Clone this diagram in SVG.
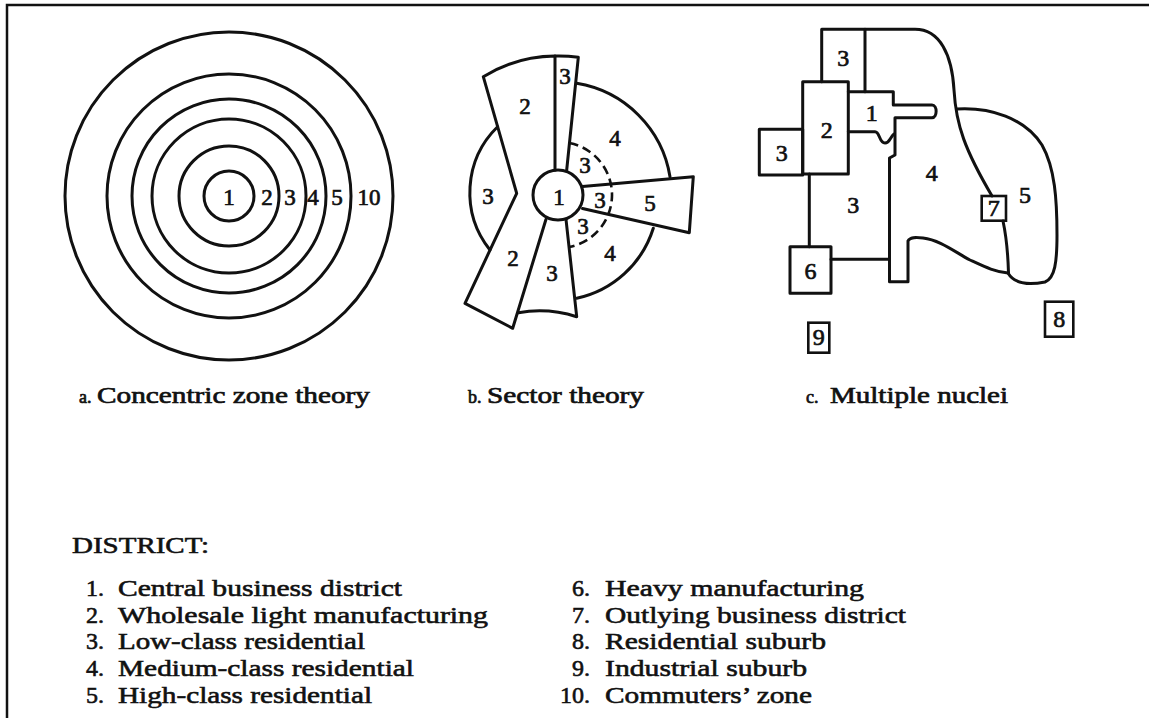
<svg xmlns="http://www.w3.org/2000/svg" width="1149" height="718" viewBox="0 0 1149 718">
<style>
.ln{fill:none;stroke:#111;stroke-width:3;stroke-linejoin:round;stroke-linecap:round}
.bx{fill:none;stroke:#111;stroke-width:2.6}
.dash{fill:none;stroke:#111;stroke-width:2.6;stroke-dasharray:9 5}
.num{font-family:"Liberation Serif","Times New Roman",serif;font-size:23px;text-anchor:middle;fill:#111;stroke:#111;stroke-width:0.7}
.nb{font-size:24px}
.cap{font-family:"Liberation Serif","Times New Roman",serif;font-size:24px;fill:#111;stroke:#111;stroke-width:0.7}
.sm{font-size:18px}
.leg{font-family:"Liberation Serif","Times New Roman",serif;font-size:24px;fill:#111;stroke:#111;stroke-width:0.6}
</style>
<rect width="1149" height="718" fill="#fff"/>
<path d="M7 718 V5 H1149" fill="none" stroke="#111" stroke-width="2.5"/>

<g id="concentric">
<circle class="ln" cx="229" cy="196" r="25"/>
<circle class="ln" cx="229" cy="196" r="50"/>
<circle class="ln" cx="229" cy="196" r="77"/>
<circle class="ln" cx="229" cy="196" r="97"/>
<circle class="ln" cx="229" cy="196" r="122"/>
<circle class="ln" cx="229" cy="196" r="164"/>
<text class="num" x="229" y="204.5">1</text>
<text class="num" x="267" y="204.5">2</text>
<text class="num" x="290" y="204.5">3</text>
<text class="num" x="313" y="204.5">4</text>
<text class="num" x="337" y="204.5">5</text>
<text class="num" x="369" y="204.5">10</text>
</g>

<g id="sector">
<circle class="ln" cx="558" cy="195" r="25"/>
<path class="ln" d="M555 170 V56 A139 139 0 0 0 483.3 76.7 L516.7 193.3 L465 303.3 L512.7 328.3 L546 219.3"/>
<path class="ln" d="M555 56 A139 139 0 0 1 578.3 57.3 L566.7 170"/>
<path class="ln" d="M497.6 126.7 A92 92 0 0 0 490 250"/>
<path class="ln" d="M576.7 83.3 A113 113 0 0 1 670 176.7"/>
<path class="ln" d="M582.5 186.5 L693.3 176.7 L689.3 232.7 L582.5 208.5"/>
<path class="ln" d="M653.3 228.3 A103 103 0 0 1 576.7 298.3"/>
<path class="ln" d="M566 219.3 L576.7 316.7 A123 123 0 0 0 518.3 312.7"/>
<path class="dash" d="M569.5 143 A53 53 0 0 1 569 247"/>
<text class="num" x="565" y="84">3</text>
<text class="num" x="525" y="114">2</text>
<text class="num" x="615" y="145.5">4</text>
<text class="num" x="585" y="172.5">3</text>
<text class="num" x="488" y="204">3</text>
<text class="num" x="559" y="204.5">1</text>
<text class="num" x="600" y="207.5">3</text>
<text class="num" x="650" y="210.5">5</text>
<text class="num" x="583" y="234">3</text>
<text class="num" x="610" y="260.5">4</text>
<text class="num" x="513" y="265.5">2</text>
<text class="num" x="552" y="280.5">3</text>
</g>

<g id="nuclei">
<path class="ln" d="M821.7 81.7 V29.3 H915 C940 29.3 952 55 954 90 C956 125 965 150 992 196"/>
<path class="ln" d="M865 29.3 V91.7"/>
<rect class="ln" x="802.7" y="81.7" width="45.6" height="92.3"/>
<rect class="ln" x="759.3" y="129.3" width="43.4" height="45.7"/>
<path class="ln" d="M848.3 91.7 H893.3 V105 H932 C937.5 105 937.5 117.7 932 117.7 H895 V155 L889.5 158 V281.7 H908 V241 C910 237 915 237 923 238 C940 240 955 252 970 260 C985 267 995 272 1008 273"/>
<path class="ln" d="M848.3 131.7 H875 C880 131.7 879 143 885 143 C890 143 890 137 894 134"/>
<path class="ln" d="M956.7 109 C990 107 1025 118 1042 145 C1055 168 1057 200 1057 235 C1057 262 1055 278 1045 282 C1030 285 1015 285 1008 273"/>
<path class="ln" d="M1003 221 C1006 235 1008 255 1008.5 273"/>
<rect class="bx" x="981.7" y="196" width="24.3" height="24.7"/>
<path class="ln" d="M809.3 174 V246.7 M831 259.3 H889.5"/>
<rect class="ln" x="790" y="246.7" width="41" height="46.6"/>
<rect class="bx" x="808.3" y="322.7" width="21" height="30"/>
<rect class="bx" x="1045" y="301.7" width="28.3" height="35"/>
<text class="num nb" x="843.3" y="66">3</text>
<text class="num nb" x="871.7" y="121">1</text>
<text class="num nb" x="826.7" y="138">2</text>
<text class="num nb" x="781.7" y="161">3</text>
<text class="num nb" x="931.7" y="181">4</text>
<text class="num nb" x="853.3" y="213">3</text>
<text class="num nb" x="1025" y="203">5</text>
<text class="num nb" x="993.8" y="216">7</text>
<text class="num nb" x="810.5" y="279">6</text>
<text class="num nb" x="818.8" y="345">9</text>
<text class="num nb" x="1059.3" y="327">8</text>
</g>

<g id="captions">
<text class="cap sm" x="79" y="403">a.</text>
<text class="cap" x="97" y="403" textLength="273" lengthAdjust="spacingAndGlyphs">Concentric zone theory</text>
<text class="cap sm" x="468" y="403">b.</text>
<text class="cap" x="487" y="403" textLength="157" lengthAdjust="spacingAndGlyphs">Sector theory</text>
<text class="cap sm" x="806" y="403">c.</text>
<text class="cap" x="830" y="403" textLength="178" lengthAdjust="spacingAndGlyphs">Multiple nuclei</text>
</g>

<g id="legend">
<text class="leg" x="72" y="553" textLength="137" lengthAdjust="spacingAndGlyphs">DISTRICT:</text>
<text class="leg" x="104" y="596" text-anchor="end">1.</text><text class="leg" x="118" y="596" textLength="284" lengthAdjust="spacingAndGlyphs">Central business district</text>
<text class="leg" x="104" y="623" text-anchor="end">2.</text><text class="leg" x="118" y="623" textLength="370" lengthAdjust="spacingAndGlyphs">Wholesale light manufacturing</text>
<text class="leg" x="104" y="649" text-anchor="end">3.</text><text class="leg" x="118" y="649" textLength="247" lengthAdjust="spacingAndGlyphs">Low-class residential</text>
<text class="leg" x="104" y="676" text-anchor="end">4.</text><text class="leg" x="118" y="676" textLength="296" lengthAdjust="spacingAndGlyphs">Medium-class residential</text>
<text class="leg" x="104" y="703" text-anchor="end">5.</text><text class="leg" x="118" y="703" textLength="254" lengthAdjust="spacingAndGlyphs">High-class residential</text>
<text class="leg" x="590" y="596" text-anchor="end">6.</text><text class="leg" x="605" y="596" textLength="259" lengthAdjust="spacingAndGlyphs">Heavy manufacturing</text>
<text class="leg" x="590" y="623" text-anchor="end">7.</text><text class="leg" x="605" y="623" textLength="301" lengthAdjust="spacingAndGlyphs">Outlying business district</text>
<text class="leg" x="590" y="649" text-anchor="end">8.</text><text class="leg" x="605" y="649" textLength="221" lengthAdjust="spacingAndGlyphs">Residential suburb</text>
<text class="leg" x="590" y="676" text-anchor="end">9.</text><text class="leg" x="605" y="676" textLength="202" lengthAdjust="spacingAndGlyphs">Industrial suburb</text>
<text class="leg" x="590" y="703" text-anchor="end">10.</text><text class="leg" x="605" y="703" textLength="207" lengthAdjust="spacingAndGlyphs">Commuters’ zone</text>
</g>
</svg>
